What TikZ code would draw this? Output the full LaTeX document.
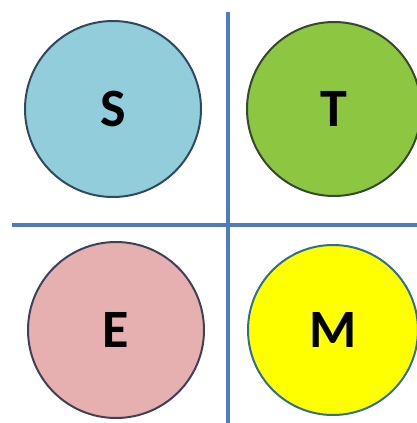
\documentclass[tikz,border=0pt]{standalone}
\usepackage{fontspec}
\setmainfont{Carlito}
\definecolor{linec}{HTML}{4F7CBF}
\definecolor{sfill}{HTML}{92CDDC}
\definecolor{tfill}{HTML}{8DC641}
\definecolor{efill}{HTML}{E6B0B0}
\definecolor{mfill}{HTML}{FFFF00}
\definecolor{sdraw}{HTML}{2E4A5C}
\definecolor{tdraw}{HTML}{344A2C}
\definecolor{edraw}{HTML}{40405A}
\definecolor{mdraw}{HTML}{2F6F8F}
\tikzset{
  letter/.style={circle, line width=2pt, font=\fontsize{54}{54}\selectfont\bfseries, text=black, inner sep=0pt},
  divider/.style={draw=linec, line width=4.5pt}
}
\begin{document}
\begin{tikzpicture}[x=1pt,y=-1pt]
\useasboundingbox (0,0) rectangle (417,423);
\clip (0,0) rectangle (417,423);
\coordinate (vtop) at (228,12);
\coordinate (vbot) at (228,423);
\coordinate (hl) at (12,225);
\coordinate (hr) at (417,225);
\draw[divider] (vtop) -- (vbot);
\draw[divider] (hl) -- (hr);
\node[letter, fill=sfill, draw=sdraw, minimum size=176pt] (S) at (113,109) {S};
\node[letter, fill=tfill, draw=tdraw, minimum size=174pt] (T) at (334,109) {T};
\node[letter, fill=efill, draw=edraw, minimum size=176pt] (E) at (116,330) {E};
\node[letter, fill=mfill, draw=mdraw, minimum size=170pt] (M) at (333,330) {M};
\end{tikzpicture}
\end{document}
